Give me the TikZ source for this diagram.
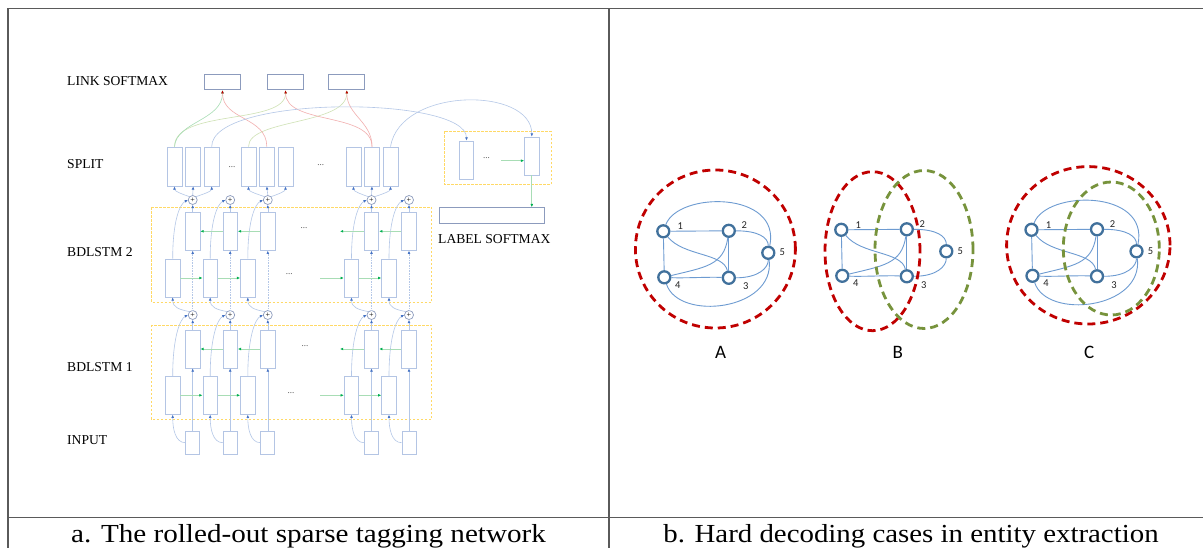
\documentclass[tikz,border=0pt]{standalone}
\usepackage{fontspec}
\setmainfont{Liberation Serif}
\newfontfamily\grfont{Carlito}
\usetikzlibrary{arrows.meta}
\definecolor{boxblue}{HTML}{B4C5E4}
\definecolor{smxline}{HTML}{8C9BBD}
\definecolor{ydash}{HTML}{FFD966}
\definecolor{gline}{HTML}{A8DDB5}
\definecolor{ghead}{HTML}{00B050}
\definecolor{bline}{HTML}{B4C7E7}
\definecolor{bhead}{HTML}{4472C4}
\definecolor{rline}{HTML}{F2AFAF}
\definecolor{rhead}{HTML}{C00000}
\definecolor{oline}{HTML}{CFE2B5}
\definecolor{ohead}{HTML}{70AD47}
\definecolor{tabline}{HTML}{5A5A5A}
\definecolor{noderim}{HTML}{41719C}
\definecolor{gedgec}{HTML}{6D9BD1}
\definecolor{dred}{HTML}{C00000}
\definecolor{dgreen}{HTML}{77933C}
\begin{document}
\begin{tikzpicture}[x=1pt,y=-1pt,
  lstm/.style={draw=boxblue,line width=0.8pt,fill=white,minimum width=14.5pt,minimum height=38pt,inner sep=0pt},
  inbox/.style={lstm,minimum width=14pt,minimum height=23.5pt},
  smx/.style={draw=smxline,line width=1pt,fill=white,inner sep=0pt,minimum height=15.2pt},
  plusnode/.style={circle,draw=smxline,line width=0.7pt,fill=white,minimum size=9pt,inner sep=0pt,font=\fontsize{8}{8}\selectfont},
  ybox/.style={draw=ydash,line width=0.8pt,dash pattern=on 2.4pt off 1.6pt},
  arrtip/.style={-{Latex[length=3.2pt,width=2.8pt,color=#1]}},
  barr/.style={draw=bline,line width=0.6pt,arrtip=bhead},
  garr/.style={draw=gline,line width=0.9pt,arrtip=ghead},
  glink/.style={draw=gline,line width=0.6pt,arrtip=ghead},
  rarr/.style={draw=rline,line width=0.6pt,arrtip=rhead},
  oarr/.style={draw=oline,line width=0.6pt,arrtip=ohead},
  lbl/.style={anchor=base west,inner sep=0pt,font=\fontsize{13.6}{16}\selectfont},
  dotsn/.style={inner sep=0pt,font=\fontsize{9}{9}\selectfont,text=black!70},
  gnode/.style={circle,draw=noderim,line width=2.3pt,fill=white,minimum size=12pt,inner sep=0pt},
  gedge/.style={draw=gedgec,line width=0.9pt},
  glabel/.style={inner sep=0pt,font=\grfont\fontsize{10.5}{11}\selectfont,text=black!85},
  gletter/.style={inner sep=0pt,font=\grfont\fontsize{19}{20}\selectfont},
  reddash/.style={draw=dred,line width=2.8pt,dash pattern=on 8pt off 5pt},
  greendash/.style={draw=dgreen,line width=2.8pt,dash pattern=on 8pt off 5pt},
  tab/.style={draw=tabline,line width=1.2pt}
]
\useasboundingbox (0,0) rectangle (1203,548);
\fill[white] (0,0) rectangle (1203,548);

% table
\draw[tab] (8,8.5) -- (1203,8.5);
\draw[tab] (8,8.5) -- (8,548);
\draw[tab] (609,8.5) -- (609,548);
\draw[tab] (8,517.5) -- (1203,517.5);
\node[anchor=base,inner sep=0pt] (capa) at (308.5,542.7) {\scalebox{1.12}[1]{\fontsize{26}{30}\selectfont a. The rolled-out sparse tagging network}};
\node[anchor=base,inner sep=0pt] (capb) at (911,542.7) {\scalebox{1.11}[1]{\fontsize{26}{30}\selectfont b. Hard decoding cases in entity extraction}};

% left labels
\node[lbl] (tlink) at (67,85.5) {LINK SOFTMAX};
\node[lbl] (tsplit) at (67,168.5) {SPLIT};
\node[lbl] (tbd2) at (67,256.5) {BDLSTM 2};
\node[lbl] (tbd1) at (67,371.5) {BDLSTM 1};
\node[lbl] (tin) at (67,444.5) {INPUT};
\node[lbl] (tlabel) at (438,243.5) {LABEL SOFTMAX};

% yellow dashed groups
\draw[ybox] (151.3,207.3) rectangle (431.7,302);
\draw[ybox] (151.3,325) rectangle (431.7,419.3);
\draw[ybox] (444,131.5) rectangle (551,184.4);

% link softmax boxes
\node[smx,minimum width=36.3pt] (L1) at (222.5,82.2) {};
\node[smx,minimum width=36.3pt] (L2) at (285.6,82.2) {};
\node[smx,minimum width=36.3pt] (L3) at (346.8,82.2) {};

% split boxes
\foreach \n/\x in {S1a/174.5,S1b/193.2,S1c/211.7,S2a/248.5,S2b/266.8,S2c/285.5,S3a/353.5,S3b/372,S3c/390.5}
  \node[lstm,minimum width=14.8pt,minimum height=39pt] (\n) at (\x,166.5) {};
\node[dotsn] (sd1) at (232,167) {...};
\node[dotsn] (sd2) at (320.7,165) {...};

% label group
\node[lstm] (LGa) at (466.5,160) {};
\node[lstm] (LGb) at (531.8,156) {};
\node[dotsn] (lgd) at (486.4,158) {...};
\coordinate (lg0) at (501,160.7);
\draw[garr] (lg0) -- (lg0 -| LGb.west);
\node[smx,minimum width=104.7pt,minimum height=15.6pt] (LS) at (491.7,215.5) {};
\draw[garr] (LGb.south) -- (LGb.south |- LS.north);

% columns
\foreach \c/\bx in {1/192.7,2/230.2,3/267.8,4/371.5,5/409}{
  \node[inbox] (I\c) at (\bx,442.7) {};
  \node[lstm] (Ba\c) at (\bx,349) {};
  \node[lstm] (Fa\c) at (\bx-20,395.3) {};
  \node[plusnode] (Pa\c) at (\bx,315) {+};
  \node[lstm] (Bb\c) at (\bx,231.3) {};
  \node[lstm] (Fb\c) at (\bx-20,278) {};
  \node[plusnode] (Pb\c) at (\bx,200) {+};
}
\foreach \c in {1,...,5}{
  \draw[barr] (I\c.north) -- (Ba\c.south);
  \draw[barr] (I\c.west) .. controls +(-10,0) and +(0,14) .. (Fa\c.south);
  \draw[barr] (Ba\c.north) -- (Pa\c.south);
  \draw[barr] (Fa\c.north) .. controls +(0,-38) and +(-8,4) .. (Pa\c.west);
  \draw[barr,densely dotted] (Pa\c.north) -- (Bb\c.south);
  \draw[barr] (Pa\c.north west) .. controls +(-10,-2) and +(0,10) .. (Fb\c.south);
  \draw[barr] (Bb\c.north) -- (Pb\c.south);
  \draw[barr] (Fb\c.north) .. controls +(0,-38) and +(-8,4) .. (Pb\c.west);
}
% recurrent arrows
\foreach \a/\b in {1/2,2/3,4/5}{
  \draw[garr] (Fa\a.east) -- (Fa\b.west);
  \draw[garr] (Fb\a.east) -- (Fb\b.west);
  \draw[garr] (Ba\b.west) -- (Ba\a.east);
  \draw[garr] (Bb\b.west) -- (Bb\a.east);
}
\coordinate (fa0) at (320,395.3);
\coordinate (fb0) at (320,278);
\coordinate (ba0) at (340,349);
\coordinate (bb0) at (340,231.3);
\draw[garr] (fa0) -- (Fa4.west);
\draw[garr] (fb0) -- (Fb4.west);
\draw[garr] (Ba4.west) -- (ba0);
\draw[garr] (Bb4.west) -- (bb0);
\node[dotsn] (dfa) at (291,393) {...};
\node[dotsn] (dba) at (305,346) {...};
\node[dotsn] (dfb) at (289.3,274.5) {...};
\node[dotsn] (dbb) at (304,228.5) {...};

% split arrows
\foreach \c/\s in {1/S1,3/S2,4/S3}{
  \draw[barr] (Pb\c.north west) .. controls +(-6,-2) and +(0,5) .. (\s a.south);
  \draw[barr] (Pb\c.north) -- (\s b.south);
  \draw[barr] (Pb\c.north east) .. controls +(6,-2) and +(0,5) .. (\s c.south);
}

% links
\draw[oarr] (S1a.north) .. controls +(0,-38) and +(0,35) .. (L2.south);
\draw[oarr] (S2a.north) .. controls +(0,-28) and +(0,35) .. (L3.south);
\draw[glink] (S1a.north) .. controls +(2,-25) and +(0,30) .. (L1.south);
\draw[rarr] (S2b.north) .. controls +(0,-30) and +(0,30) .. (L1.south);
\draw[rarr] (S3b.north) .. controls +(0,-35) and +(0,35) .. (L2.south);
\draw[rarr] (S3b.north) .. controls +(0,-25) and +(0,25) .. (L3.south);
\draw[barr] (S1c.north) .. controls +(0,-52) and +(0,-45) .. (LGa.north);
\draw[barr] (S3c.north) .. controls +(10,-60) and +(0,-50) .. (LGb.north);

% graphs
\foreach \g/\ox/\oy/\lp in {A/663.3/231.3/1,B/841.3/229.8/0,C/1031.5/229.8/1}{
  \node[gnode] (\g1) at (\ox,\oy) {};
  \node[gnode] (\g2) at (\ox+65.5,\oy-0.5) {};
  \node[gnode] (\g5) at (\ox+105,\oy+21.5) {};
  \node[gnode] (\g4) at (\ox+1,\oy+46) {};
  \node[gnode] (\g3) at (\ox+65.5,\oy+46.5) {};
  \draw[gedge] (\g1) -- (\g2);
  \draw[gedge] (\g1) -- (\g4);
  \draw[gedge] (\g2) -- (\g3);
  \draw[gedge] (\g4) .. controls +(20,1) and +(-20,-1) .. (\g3);
  \draw[gedge] (\g1) .. controls +(20,25) and +(-5,-25) .. (\g3);
  \draw[gedge] (\g4) .. controls +(40,-10) and +(-5,35) .. (\g2);
  \draw[gedge] (\g2) .. controls +(30,0) and +(0,-15) .. (\g5);
  \draw[gedge] (\g3) .. controls +(30,0) and +(0,15) .. (\g5);
  \ifnum\lp=1
    \draw[gedge] (\g1) .. controls +(15,-40) and +(13,-62) .. (\g5);
    \draw[gedge] (\g5) .. controls +(7,58) and +(14,44) .. (\g4);
  \fi
  \node[glabel] (\g l1) at (\ox+17,\oy-5) {1};
  \node[glabel] (\g l2) at (\ox+81,\oy-6) {2};
  \node[glabel] (\g l5) at (\ox+119,\oy+21) {5};
  \node[glabel] (\g l4) at (\ox+14.5,\oy+53.5) {4};
  \node[glabel] (\g l3) at (\ox+82.5,\oy+55) {3};
}
\draw[reddash] (715.4,249) ellipse [x radius=80pt, y radius=79pt];
\draw[reddash] (872.5,251.2) ellipse [x radius=47.5pt, y radius=79.5pt];
\draw[greendash] (924,249.5) ellipse [x radius=49pt, y radius=79pt];
\draw[reddash] (1088.3,245.3) ellipse [x radius=81.7pt, y radius=78.7pt];
\draw[greendash] (1111.3,248.5) ellipse [x radius=48pt, y radius=66.5pt];
\node[gletter] (lA) at (720.7,352.7) {A};
\node[gletter] (lB) at (897.7,352.7) {B};
\node[gletter] (lC) at (1089.3,352.7) {C};
\end{tikzpicture}
\end{document}
